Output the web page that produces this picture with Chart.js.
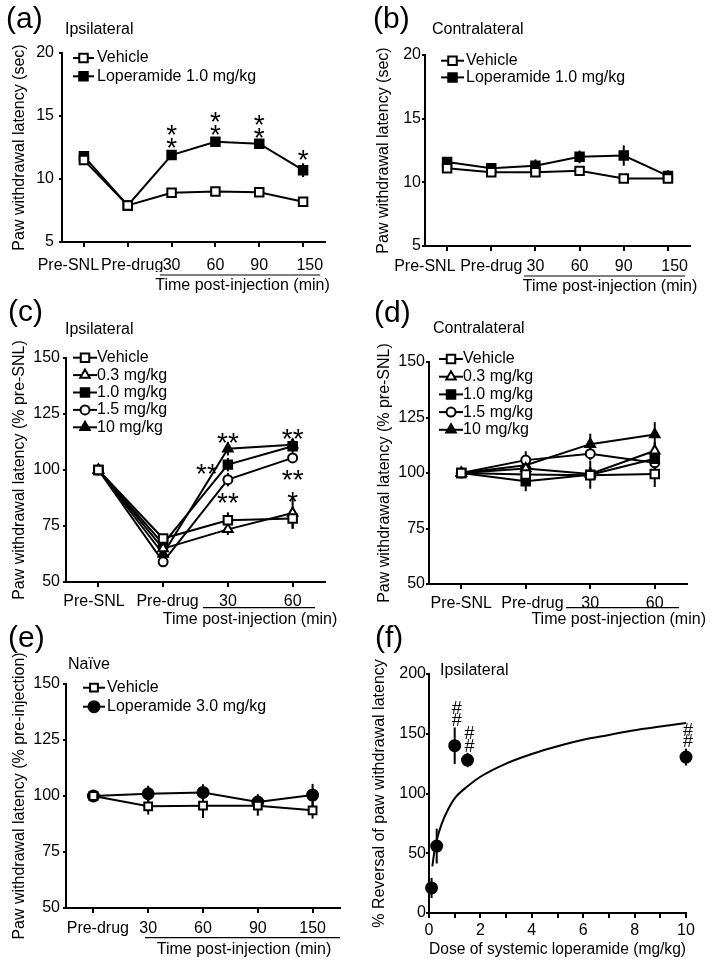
<!DOCTYPE html>
<html>
<head>
<meta charset="utf-8">
<script src="https://cdn.jsdelivr.net/npm/chart.js@4.4.0/dist/chart.umd.min.js"></script>
<style>
  html, body { margin: 0; padding: 0; background: #fff; }
  body { width: 714px; height: 964px; position: relative; overflow: hidden; }
  canvas { position: absolute; }
</style>
</head>
<body>
<canvas id="chartA" style="left:0;top:0" width="357" height="300"></canvas>
<canvas id="chartB" style="left:357px;top:0" width="357" height="300"></canvas>
<canvas id="chartC" style="left:0;top:290px" width="357" height="345"></canvas>
<canvas id="chartD" style="left:357px;top:290px" width="357" height="345"></canvas>
<canvas id="chartE" style="left:0;top:620px" width="357" height="344"></canvas>
<canvas id="chartF" style="left:357px;top:620px" width="357" height="344"></canvas>
<script>
// ---- data ----
const timeLabels6 = ['Pre-SNL', 'Pre-drug', '30', '60', '90', '150'];
const timeLabels4 = ['Pre-SNL', 'Pre-drug', '30', '60'];
const timeLabelsE = ['Pre-drug', '30', '60', '90', '150'];

// (a) ipsilateral, sec
const vehicleA = [11.5, 7.9, 8.9, 9.0, 8.95, 8.2];
const vehicleErrA = [0.2, 0.15, 0.3, 0.25, 0.2, 0.2];
const lopA = [11.8, 7.9, 11.9, 12.95, 12.8, 10.7];
const lopErrA = [0.2, 0.15, 0.3, 0.25, 0.35, 0.55];

// (b) contralateral, sec
const vehicleB = [11.1, 10.8, 10.8, 10.9, 10.3, 10.3];
const vehicleErrB = [0.2, 0.2, 0.2, 0.2, 0.15, 0.2];
const lopB = [11.6, 11.1, 11.3, 12.0, 12.1, 10.5];
const lopErrB = [0.3, 0.2, 0.5, 0.5, 0.8, 0.45];

// (c) ipsilateral, % pre-SNL
const vehicleC = [100, 69.4, 77.6, 78.3];
const vehicleErrC = [0, 2, 3.5, 4.5];
const d03C = [100, 64.9, 73.5, 80.8];
const d03ErrC = [0, 2, 2.5, 7];
const d1C = [100, 67, 102.4, 110.6];
const d1ErrC = [0, 2.5, 3, 3.4];
const d15C = [100, 59, 95.7, 105.4];
const d15ErrC = [0, 2, 3, 2];
const d10C = [100, 62.5, 109.5, 111.3];
const d10ErrC = [0, 2, 3, 2];

// (d) contralateral, % pre-SNL
const vehicleD = [100, 99.3, 99, 99.5];
const vehicleErrD = [0, 2, 2, 5.8];
const d03D = [100, 102, 99.6, 110];
const d03ErrD = [0, 2, 3, 4];
const d1D = [100, 96.3, 99.2, 106.4];
const d1ErrD = [0, 4.5, 6.3, 3];
const d15D = [100, 105.8, 108.7, 104.6];
const d15ErrD = [0, 4, 3, 3];
const d10D = [100, 103.5, 113, 117.3];
const d10ErrD = [0, 3, 4.7, 5.6];

// (e) naive, % pre-injection
const vehicleE = [100, 95.4, 95.7, 95.7, 93.6];
const vehicleErrE = [0, 3.7, 5.5, 4.5, 3.7];
const lopE = [100, 101, 101.6, 97.3, 100.4];
const lopErrE = [0, 3.6, 3.7, 3.5, 5];

// (f) dose response
const doseF = [0.1, 0.3, 1.0, 1.5, 10];
const reversalF = [21, 56, 140, 128, 130.5];
const reversalErrF = [8.4, 14.6, 15.3, 6, 7];
const curveDoseF = [0.13, 0.2, 0.3, 0.5, 0.75, 1, 1.5, 2, 3, 4, 5, 6, 7, 8, 9, 10];
const curveValF = [39, 50, 61, 75, 87, 96, 106, 114, 125, 133, 139.5, 145, 149, 153, 156, 159];

// ---- common styling ----
const FONT = "'Liberation Sans', Arial, sans-serif";
Chart.defaults.font.family = FONT;
Chart.defaults.font.size = 16;
Chart.defaults.color = '#000';
Chart.defaults.animation = false;
Chart.defaults.plugins.legend.display = false;
Chart.defaults.plugins.tooltip.enabled = false;

function yVal(d) { return (d !== null && typeof d === 'object') ? d.y : d; }

function series(label, data, errors, style, filled, radius) {
    return {
        label, data, errors,
        borderColor: '#000', borderWidth: 2,
        pointStyle: style, pointRadius: radius,
        pointBackgroundColor: filled ? '#000' : '#fff',
        pointBorderColor: '#000', pointBorderWidth: 2,
        tension: 0, clip: false
    };
}

// error bars, legend, labels and significance marks
const deco = {
    id: 'deco',
    beforeDatasetsDraw(chart) {
        const ctx = chart.ctx, ys = chart.scales.y;
        ctx.save();
        ctx.strokeStyle = '#000';
        ctx.lineWidth = 2;
        chart.data.datasets.forEach((ds, di) => {
            if (!ds.errors) return;
            chart.getDatasetMeta(di).data.forEach((pt, i) => {
                const e = ds.errors[i];
                if (!e) return;
                const v = yVal(ds.data[i]);
                ctx.beginPath();
                ctx.moveTo(pt.x, ys.getPixelForValue(v - e));
                ctx.lineTo(pt.x, ys.getPixelForValue(v + e));
                ctx.stroke();
            });
        });
        ctx.restore();
    },
    afterDraw(chart, args, o) {
        const ctx = chart.ctx;
        ctx.save();
        ctx.fillStyle = '#000';
        ctx.strokeStyle = '#000';

        // panel letter + subtitle
        ctx.textBaseline = 'middle';
        ctx.textAlign = 'left';
        ctx.font = '30px ' + FONT;
        ctx.fillText(o.label, o.labelPos[0], o.labelPos[1]);
        ctx.font = '16px ' + FONT;
        ctx.fillText(o.subtitle, o.subPos[0], o.subPos[1]);

        // legend
        if (o.legend) {
            const lg = o.legend;
            chart.data.datasets.forEach((ds, i) => {
                if (!ds.errors) return;
                const y = lg.y + i * lg.dy;
                ctx.lineWidth = 2;
                ctx.beginPath();
                ctx.moveTo(lg.x0, y);
                ctx.lineTo(lg.x1, y);
                ctx.stroke();
                ctx.fillStyle = ds.pointBackgroundColor;
                Chart.helpers.drawPoint(ctx, { pointStyle: ds.pointStyle, radius: ds.pointRadius, rotation: 0, borderWidth: 2 }, (lg.x0 + lg.x1) / 2, y);
                ctx.fillStyle = '#000';
                ctx.font = '16px ' + FONT;
                ctx.fillText(ds.label, lg.textX, y);
            });
        }

        // bracket line under the post-injection times + x title
        if (o.underline) {
            const u = o.underline;
            ctx.lineWidth = 1.2;
            ctx.beginPath();
            ctx.moveTo(u[0], u[2]);
            ctx.lineTo(u[1], u[2]);
            ctx.stroke();
        }
        if (o.xTitle) {
            ctx.textAlign = 'center';
            ctx.font = '16px ' + FONT;
            ctx.fillText(o.xTitle[0], o.xTitle[1], o.xTitle[2]);
        }

        // significance marks anchored on data points
        (o.marks || []).forEach(m => {
            const pt = chart.getDatasetMeta(m.ds).data[m.i];
            const size = m.text.includes('#') ? 18 : 28;
            const rise = m.text.includes('#') ? 0.35 : 0.58;
            ctx.font = size + 'px ' + FONT;
            ctx.textAlign = 'center';
            ctx.textBaseline = 'alphabetic';
            ctx.fillText(m.text, pt.x + (m.dx || 0), pt.y + m.dy + rise * size);
        });
        ctx.restore();
    }
};

const axisBorder = { display: true, color: '#000', width: 2 };

function yAxis(min, max, step, title, width, pad) {
    return {
        min, max,
        border: axisBorder,
        grid: { display: true, drawOnChartArea: false, drawTicks: true, tickLength: 3, color: '#000', lineWidth: 2 },
        ticks: { stepSize: step, padding: pad },
        title: { display: true, text: title, padding: 0 },
        afterFit: s => { s.width = width; }
    };
}

// nudge: spaces per tick label (negative = pad right, shifts label left)
function catAxis(height, pad, nudge) {
    return {
        type: 'category', offset: true,
        border: axisBorder,
        grid: { display: true, offset: false, drawOnChartArea: false, drawTicks: true, tickLength: 5, color: '#000', lineWidth: 2 },
        ticks: {
            autoSkip: false, maxRotation: 0, minRotation: 0, padding: pad,
            callback: function (v, i) {
                const lab = this.getLabelForValue(v);
                const n = (nudge && nudge[i]) || 0;
                return n < 0 ? lab + ' '.repeat(-n) : ' '.repeat(n) + lab;
            }
        },
        afterFit: s => { s.height = height; }
    };
}

// chart area given in canvas pixels: left, top, right, bottom; titleX = centre of y title
function frame(canvas, L, T, R, B, titleX, xH) {
    const yW = L - titleX + 9.6;
    return {
        yW, xH,
        padding: { left: L - yW, top: T, right: canvas.width - R, bottom: canvas.height - B - xH }
    };
}

function linePanel(id, labels, datasets, yOpts, box, xPad, nudge, decoOpts) {
    const cv = document.getElementById(id);
    const f = frame(cv, box[0], box[1], box[2], box[3], box[4], 30);
    return new Chart(cv, {
        type: 'line',
        data: { labels, datasets },
        options: {
            responsive: false,
            layout: { padding: f.padding },
            scales: {
                x: catAxis(f.xH, xPad, nudge),
                y: yAxis(yOpts[0], yOpts[1], yOpts[2], yOpts[3], f.yW, yOpts[4])
            },
            plugins: { deco: decoOpts }
        },
        plugins: [deco]
    });
}

// (a)
linePanel('chartA', timeLabels6, [
    series('Vehicle', vehicleA, vehicleErrA, 'rect', false, 6),
    series('Loperamide 1.0 mg/kg', lopA, lopErrA, 'rect', true, 6)
], [5, 20, 5, 'Paw withdrawal latency (sec)', 5], [62, 53, 325, 242, 20], 9, [-7, 2, 0, 0, 0, 3], {
    label: '(a)', labelPos: [6, 20], subtitle: 'Ipsilateral', subPos: [65, 30],
    legend: { x0: 73, x1: 94, textX: 97, y: 58, dy: 18.3 },
    underline: [160, 320, 275], xTitle: ['Time post-injection (min)', 242.5, 286],
    marks: [
        { ds: 1, i: 2, text: '*', dy: -27 }, { ds: 1, i: 2, text: '*', dy: -14 },
        { ds: 1, i: 3, text: '*', dy: -27 }, { ds: 1, i: 3, text: '*', dy: -14 },
        { ds: 1, i: 4, text: '*', dy: -26 }, { ds: 1, i: 4, text: '*', dy: -13 },
        { ds: 1, i: 5, text: '*', dy: -17 }
    ]
});

// (b)
linePanel('chartB', timeLabels6, [
    series('Vehicle', vehicleB, vehicleErrB, 'rect', false, 6),
    series('Loperamide 1.0 mg/kg', lopB, lopErrB, 'rect', true, 6)
], [5, 20, 5, 'Paw withdrawal latency (sec)', 1], [68, 55, 333, 246, 27], 6, [-10, 0, 0, 0, 0, 3], {
    label: '(b)', labelPos: [16, 20], subtitle: 'Contralateral', subPos: [75, 30],
    legend: { x0: 84, x1: 107, textX: 109, y: 60.7, dy: 16.7 },
    underline: [167, 328, 276], xTitle: ['Time post-injection (min)', 253, 286.7]
});

// (c)
linePanel('chartC', timeLabels4, [
    series('Vehicle', vehicleC, vehicleErrC, 'rect', false, 6),
    series('0.3 mg/kg', d03C, d03ErrC, 'triangle', false, 5.5),
    series('1.0 mg/kg', d1C, d1ErrC, 'rect', true, 6),
    series('1.5 mg/kg', d15C, d15ErrC, 'circle', false, 4.5),
    series('10 mg/kg', d10C, d10ErrC, 'triangle', true, 5.5)
], [50, 150, 25, 'Paw withdrawal latency (% pre-SNL)', 3], [66, 68, 325, 292, 20], 5, [-2, 2, 0, 0], {
    label: '(c)', labelPos: [8, 23], subtitle: 'Ipsilateral', subPos: [65, 40],
    legend: { x0: 73, x1: 97, textX: 97, y: 67.7, dy: 17.4 },
    underline: [203, 315, 317.7], xTitle: ['Time post-injection (min)', 250, 330],
    marks: [
        { ds: 4, i: 2, text: '**', dy: -13 },
        { ds: 2, i: 2, text: '**', dx: -21, dy: 2 },
        { ds: 3, i: 2, text: '**', dy: 16 },
        { ds: 4, i: 3, text: '**', dy: -13 },
        { ds: 3, i: 3, text: '**', dy: 15 },
        { ds: 1, i: 3, text: '*', dy: -18 }
    ]
});

// (d)
linePanel('chartD', timeLabels4, [
    series('Vehicle', vehicleD, vehicleErrD, 'rect', false, 6),
    series('0.3 mg/kg', d03D, d03ErrD, 'triangle', false, 5.5),
    series('1.0 mg/kg', d1D, d1ErrD, 'rect', true, 6),
    series('1.5 mg/kg', d15D, d15ErrD, 'circle', false, 4.5),
    series('10 mg/kg', d10D, d10ErrD, 'triangle', true, 5.5)
], [50, 150, 25, 'Paw withdrawal latency (% pre-SNL)', 1], [72, 72, 330, 294, 28], 5, [0, 3, 0, 0], {
    label: '(d)', labelPos: [17, 24], subtitle: 'Contralateral', subPos: [76, 39],
    legend: { x0: 82, x1: 106, textX: 106, y: 69, dy: 17.7 },
    underline: [209, 322, 317.7], xTitle: ['Time post-injection (min)', 261.7, 330]
});

// (e)
linePanel('chartE', timeLabelsE, [
    series('Vehicle', vehicleE, vehicleErrE, 'rect', false, 5.5),
    series('Loperamide 3.0 mg/kg', lopE, lopErrE, 'circle', true, 5.5)
], [50, 150, 25, 'Paw withdrawal latency (% pre-injection)', 3], [66, 64, 340, 288, 20], 6, [2, 0, 0, 0, 0], {
    label: '(e)', labelPos: [8, 19], subtitle: 'Naïve', subPos: [68, 45],
    legend: { x0: 83, x1: 105, textX: 107, y: 67.7, dy: 19 },
    underline: [145, 340, 317.7], xTitle: ['Time post-injection (min)', 244, 330]
});

// (f)
(function () {
    const cv = document.getElementById('chartF');
    const f = frame(cv, 72, 54, 329, 293, 23, 46.6);
    const points = series('Loperamide', doseF.map((x, i) => ({ x, y: reversalF[i] })), reversalErrF, 'circle', true, 5.5);
    points.showLine = false;
    const curve = {
        label: 'fit', data: curveDoseF.map((x, i) => ({ x, y: curveValF[i] })),
        borderColor: '#000', borderWidth: 2, pointRadius: 0,
        cubicInterpolationMode: 'monotone', clip: false
    };
    new Chart(cv, {
        type: 'line',
        data: { datasets: [points, curve] },
        options: {
            responsive: false,
            layout: { padding: f.padding },
            scales: {
                x: {
                    type: 'linear', min: 0, max: 10,
                    border: axisBorder,
                    grid: { display: true, drawOnChartArea: false, drawTicks: true, tickLength: 5, color: '#000', lineWidth: 2 },
                    ticks: { stepSize: 1, autoSkip: false, maxRotation: 0, padding: 3, callback: v => (v % 2 === 0 ? v : '') },
                    title: { display: true, text: 'Dose of systemic loperamide (mg/kg)', padding: 0 },
                    afterFit: s => { s.height = f.xH; }
                },
                y: yAxis(0, 200, 50, '% Reversal of paw withdrawal latency', f.yW, 0)
            },
            plugins: {
                deco: {
                    label: '(f)', labelPos: [18, 19], subtitle: 'Ipsilateral', subPos: [83, 51],
                    marks: [
                        { ds: 0, i: 2, text: '#', dx: 2, dy: -38 }, { ds: 0, i: 2, text: '#', dx: 2, dy: -26 },
                        { ds: 0, i: 3, text: '#', dx: 2, dy: -27 }, { ds: 0, i: 3, text: '#', dx: 2, dy: -14 },
                        { ds: 0, i: 4, text: '#', dx: 2, dy: -27 }, { ds: 0, i: 4, text: '#', dx: 2, dy: -16 }
                    ]
                }
            }
        },
        plugins: [deco]
    });
})();
</script>
</body>
</html>
